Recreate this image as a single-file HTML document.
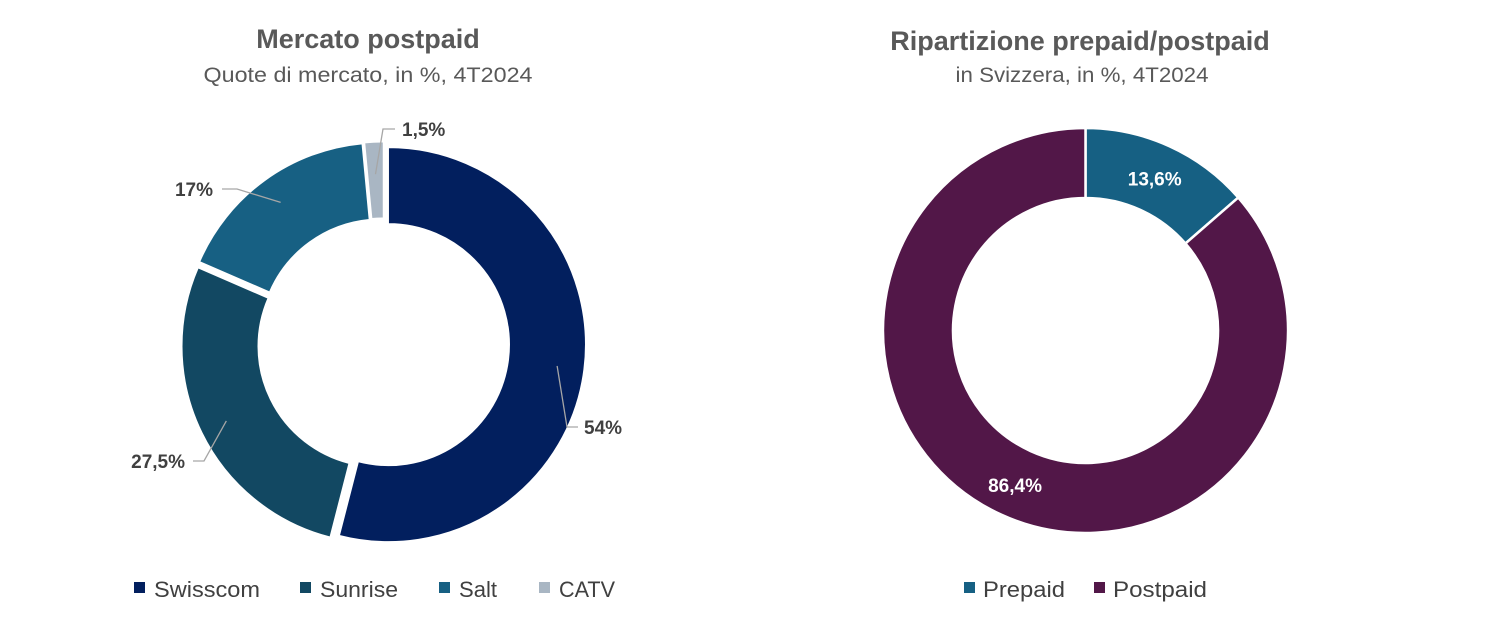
<!DOCTYPE html>
<html><head><meta charset="utf-8"><style>
body{margin:0;background:#fff;}
svg{display:block;font-family:"Liberation Sans",sans-serif;}
</style></head><body>
<svg id="c" width="1500" height="629" viewBox="0 0 1500 629">
<text x="368" y="48" text-anchor="middle" font-size="27" font-weight="bold" fill="#595959">Mercato postpaid</text>
<text x="368" y="82" text-anchor="middle" font-size="21" fill="#595959" textLength="329" lengthAdjust="spacingAndGlyphs">Quote di mercato, in %, 4T2024</text>
<text x="1080" y="50" text-anchor="middle" font-size="27" font-weight="bold" fill="#595959">Ripartizione prepaid/postpaid</text>
<text x="1082" y="82" text-anchor="middle" font-size="21" fill="#595959" textLength="253" lengthAdjust="spacingAndGlyphs">in Svizzera, in %, 4T2024</text>
<g id="left"></g>
<g id="right"></g>
<g font-size="22" fill="#404040">
<rect x="134" y="582" width="11" height="11" fill="#021f5e"/><text x="154" y="597" fill="#404040" textLength="106" lengthAdjust="spacingAndGlyphs">Swisscom</text>
<rect x="300" y="582" width="11" height="11" fill="#124862"/><text x="320" y="597" fill="#404040" textLength="78" lengthAdjust="spacingAndGlyphs">Sunrise</text>
<rect x="439" y="582" width="11" height="11" fill="#176083"/><text x="459" y="597" fill="#404040" textLength="38" lengthAdjust="spacingAndGlyphs">Salt</text>
<rect x="539" y="582" width="11" height="11" fill="#a9b6c3"/><text x="559" y="597" fill="#404040" textLength="56" lengthAdjust="spacingAndGlyphs">CATV</text>
</g>
<g font-size="22">
<rect x="964" y="582" width="11" height="11" fill="#166083"/><text x="983" y="597" fill="#404040" textLength="82" lengthAdjust="spacingAndGlyphs">Prepaid</text>
<rect x="1094" y="582" width="11" height="11" fill="#521748"/><text x="1113" y="597" fill="#404040" textLength="94" lengthAdjust="spacingAndGlyphs">Postpaid</text>
</g>
</svg>
<script>
const leftCats = ["Swisscom","Sunrise","Salt","CATV"];
const leftVals = [54,27.5,17,1.5];
const leftLabels = ["54%","27,5%","17%","1,5%"];
const rightCats = ["Prepaid","Postpaid"];
const rightVals = [13.6,86.4];
const rightLabels = ["13,6%","86,4%"];
const NS="http://www.w3.org/2000/svg";
const leftLayout=[
 {ex:567,ey:427,hx:578,tx:584,anchor:"start"},
 {ex:204,ey:461,hx:193,tx:185,anchor:"end"},
 {ex:237,ey:189,hx:222,tx:213,anchor:"end"},
 {ex:383,ey:129,hx:395,tx:402,anchor:"start"}
];
function pt(cx,cy,r,a){return [cx+r*Math.sin(a),cy-r*Math.cos(a)];}
function arc(cx,cy,ro,ri,a0,a1){
 const L=(a1-a0)>Math.PI?1:0;
 const p1=pt(cx,cy,ro,a0),p2=pt(cx,cy,ro,a1),p3=pt(cx,cy,ri,a1),p4=pt(cx,cy,ri,a0);
 return `M${p1[0]},${p1[1]}A${ro},${ro} 0 ${L} 1 ${p2[0]},${p2[1]}L${p3[0]},${p3[1]}A${ri},${ri} 0 ${L} 0 ${p4[0]},${p4[1]}Z`;
}
function mk(tag,attrs,parent){const e=document.createElementNS(NS,tag);for(const k in attrs)e.setAttribute(k,attrs[k]);parent.appendChild(e);return e;}
const lg=document.getElementById('left');
const lcol=["#021f5e","#124862","#176083","#a9b6c3"];
const lsum=leftVals.reduce((a,b)=>a+b,0);
let a=0;
leftVals.forEach((v,i)=>{
 const a0=a,a1=a+v/lsum*2*Math.PI;a=a1;
 const mid=(a0+a1)/2, off=5;
 const cx=383.5+off*Math.sin(mid), cy=344-off*Math.cos(mid);
 const p=mk('path',{d:arc(cx,cy,197,121,a0,a1),fill:lcol[i],stroke:"#fff","stroke-width":1},lg);
 
 
 const ip=pt(cx,cy,i===3?165:170,mid);
 const L=leftLayout[i];
 const ln=mk('polyline',{points:`${ip[0]},${ip[1]} ${L.ex},${L.ey} ${L.hx},${L.ey}`,fill:"none",stroke:"#a6a6a6","stroke-width":1.3},lg);
 
 
 const t=mk('text',{x:L.tx,y:L.ey+7,"text-anchor":L.anchor,"font-size":19,"font-weight":"bold",fill:"#404040"},lg);
 t.textContent=leftLabels[i];
 
 
});
const rg=document.getElementById('right');
const rcol=["#166083","#521748"];
const rsum=rightVals.reduce((a,b)=>a+b,0);
a=0;
rightVals.forEach((v,i)=>{
 const a0=a,a1=a+v/rsum*2*Math.PI;a=a1;
 const p=mk('path',{d:arc(1085.5,330.5,202.5,132.5,a0,a1),fill:rcol[i],stroke:"#fff","stroke-width":2.5},rg);
 
 
 const mid=(a0+a1)/2;
 const lp=pt(1085.5,330.5,i===0?167:170,mid);
 const t=mk('text',{x:lp[0],y:lp[1]+7,"text-anchor":"middle","font-size":19,"font-weight":"bold",fill:"#fff"},rg);
 t.textContent=rightLabels[i];
 
 
});
</script>
</body></html>
